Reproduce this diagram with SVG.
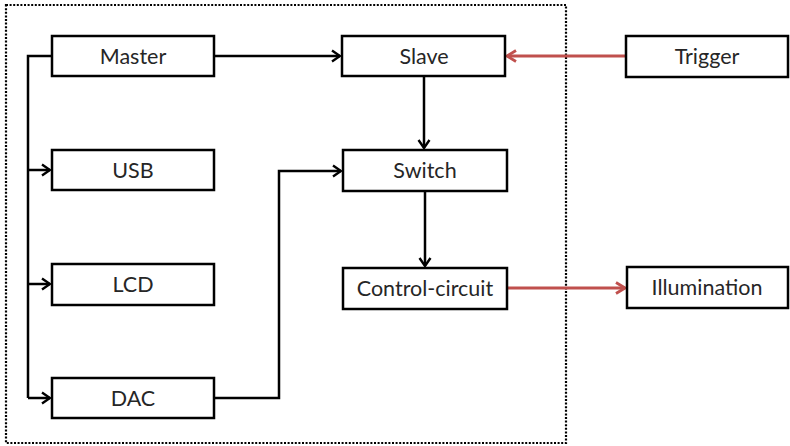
<svg xmlns="http://www.w3.org/2000/svg" width="790" height="446" viewBox="0 0 790 446">
<style>
.box{fill:#fff;stroke:#000;stroke-width:2.5}
.lbl{font-family:Lato,"Liberation Sans",sans-serif;font-size:21.5px;fill:#262626;text-anchor:middle;dominant-baseline:central}
.blk{fill:none;stroke:#000;stroke-width:2.5}
.red{fill:none;stroke:#c0504d;stroke-width:3}
</style>
<defs>
<marker id="ab" viewBox="0 0 14 14" refX="12" refY="7" markerWidth="14" markerHeight="14" markerUnits="userSpaceOnUse" orient="auto">
<path d="M4,1.5 L12,7 L4,12.5" fill="none" stroke="#000" stroke-width="2.4"/>
</marker>
<marker id="ar" viewBox="0 0 14 14" refX="12" refY="7" markerWidth="14" markerHeight="14" markerUnits="userSpaceOnUse" orient="auto">
<path d="M3,1.5 L12,7 L3,12.5" fill="none" stroke="#c0504d" stroke-width="2.8"/>
</marker>
</defs>
<rect x="6" y="5" width="560" height="438" fill="none" stroke="#000" stroke-width="2.2" stroke-dasharray="2,1.6"/>
<g id="connectors">
<path class="blk" d="M52,56 H28 V398"/>
<path class="blk" d="M28,170 H50" marker-end="url(#ab)"/>
<path class="blk" d="M28,284 H50" marker-end="url(#ab)"/>
<path class="blk" d="M28,398 H50" marker-end="url(#ab)"/>
<path class="blk" d="M214,56 H340" marker-end="url(#ab)"/>
<path class="blk" d="M424,76 V148" marker-end="url(#ab)"/>
<path class="blk" d="M214,398 H279 V171 H341" marker-end="url(#ab)"/>
<path class="blk" d="M425,191 V266" marker-end="url(#ab)"/>
<path class="red" d="M626,56 H507" marker-end="url(#ar)"/>
<path class="red" d="M507,288 H625" marker-end="url(#ar)"/>
</g>
<g id="master"><rect class="box" x="52" y="36" width="162" height="40"/><text class="lbl" x="133" y="56">Master</text></g>
<g id="usb"><rect class="box" x="52" y="150" width="162" height="40"/><text class="lbl" x="133" y="170">USB</text></g>
<g id="lcd"><rect class="box" x="52" y="264" width="162" height="41"/><text class="lbl" x="133" y="284">LCD</text></g>
<g id="dac"><rect class="box" x="52" y="378" width="162" height="40"/><text class="lbl" x="133" y="398">DAC</text></g>
<g id="slave"><rect class="box" x="342" y="36" width="163" height="40"/><text class="lbl" x="424" y="56">Slave</text></g>
<g id="switch"><rect class="box" x="343" y="150" width="164" height="41"/><text class="lbl" x="425" y="170">Switch</text></g>
<g id="control"><rect class="box" x="343" y="268" width="164" height="41"/><text class="lbl" x="425" y="288">Control-circuit</text></g>
<g id="trigger"><rect class="box" x="626" y="36" width="162" height="41"/><text class="lbl" x="707" y="56">Trigger</text></g>
<g id="illumination"><rect class="box" x="627" y="267" width="161" height="41"/><text class="lbl" x="707" y="287">Illumination</text></g>
</svg>
